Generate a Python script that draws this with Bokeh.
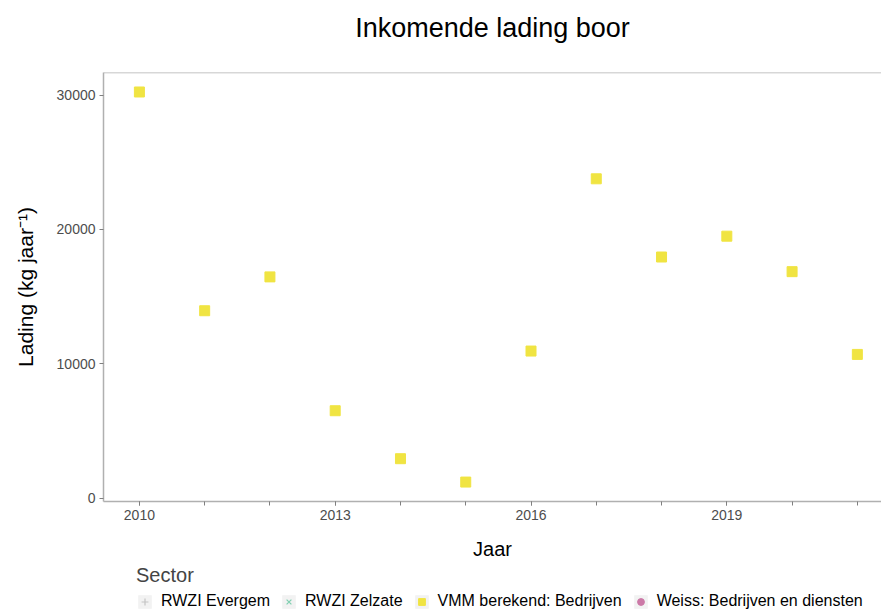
from bokeh.plotting import figure
from bokeh.layouts import column
from bokeh.models import FixedTicker, Range1d, Legend, LegendItem, Span
from bokeh.embed import file_html
from bokeh.resources import INLINE

# ---- data ----
years = [2010, 2011, 2012, 2013, 2014, 2015, 2016, 2017, 2018, 2019, 2020, 2021]
lading_vmm = [30230, 13950, 16470, 6510, 2940, 1200, 10950, 23770, 17950, 19500, 16860, 10700]
sectors = ["RWZI Evergem", "RWZI Zelzate", "VMM berekend: Bedrijven", "Weiss: Bedrijven en diensten"]
sector_markers = ["cross", "x", "square", "circle"]
sector_colors = ["#c4c4c4", "#7fcfb0", "#F0E442", "#cc79a7"]
x_major_ticks = [2010, 2013, 2016, 2019]
y_ticks = [0, 10000, 20000, 30000]
nan = float("nan")

FONT = "Liberation Sans"
AX_COL = "#b0b0b0"
TICK_LBL = "#4d4d4d"

# ---- title strip ----
tf = figure(width=881, height=56, output_backend="svg", toolbar_location=None,
            x_range=Range1d(0, 1), y_range=Range1d(0, 1),
            min_border_left=103, min_border_right=0, min_border_top=0, min_border_bottom=0,
            background_fill_color="white", border_fill_color="white")
tf.axis.visible = False
tf.xgrid.visible = False
tf.ygrid.visible = False
tf.outline_line_color = None
tf.title.text = "Inkomende lading boor"
tf.title.align = "center"
tf.title.text_font = FONT
tf.title.text_font_size = "27px"
tf.title.text_font_style = "normal"
tf.title.text_color = "black"
tf.title.standoff = 21

# ---- main plot ----
p = figure(width=881, height=506, output_backend="svg", toolbar_location=None,
           x_range=Range1d(2009.45, 2021.37), y_range=Range1d(-246, 31681),
           min_border_left=103, min_border_right=0, min_border_top=16, min_border_bottom=59,
           background_fill_color="white", border_fill_color="white")

p.outline_line_color = None
p.xgrid.visible = False
p.ygrid.visible = False

top_line = Span(location=31681, dimension="width", line_color=AX_COL, line_width=1.5)
p.add_layout(top_line)

p.xaxis.ticker = FixedTicker(ticks=x_major_ticks, minor_ticks=years)
p.yaxis.ticker = FixedTicker(ticks=y_ticks, minor_ticks=[])
for ax in (p.xaxis[0], p.yaxis[0]):
    ax.axis_line_color = AX_COL
    ax.axis_line_width = 1.5
    ax.major_tick_line_color = "#7f7f7f"
    ax.minor_tick_line_color = "#7f7f7f"
    ax.major_tick_in = 0
    ax.major_tick_out = 4
    ax.minor_tick_in = 0
    ax.minor_tick_out = 4
    ax.major_label_text_font = FONT
    ax.major_label_text_font_size = "14px"
    ax.major_label_text_color = TICK_LBL
    ax.axis_label_text_font = FONT
    ax.axis_label_text_font_size = "20px"
    ax.axis_label_text_font_style = "normal"
    ax.axis_label_text_color = "black"
    ax.major_label_standoff = 4

p.xaxis.axis_label = "Jaar"
p.xaxis.axis_label_standoff = 15
p.yaxis.axis_label = "Lading (kg jaar⁻¹)"
p.yaxis.axis_label_text_font_size = "21px"
p.yaxis.axis_label_standoff = 17
p.yaxis.major_label_orientation = "horizontal"

p.scatter(x=years, y=lading_vmm, marker="square", size=10,
          fill_color=sector_colors[2], line_color=sector_colors[2])

# ---- legend strip (separate figure below the plot) ----
lg = figure(width=881, height=48, output_backend="svg", toolbar_location=None,
            x_range=Range1d(0, 1), y_range=Range1d(0, 1),
            min_border_left=0, min_border_right=0, min_border_top=0, min_border_bottom=0,
            background_fill_color="white", border_fill_color="white")
lg.axis.visible = False
lg.xgrid.visible = False
lg.ygrid.visible = False
lg.outline_line_color = None

items = []
for s, m, c in zip(sectors, sector_markers, sector_colors):
    bg = lg.rect(x=[nan], y=[nan], width=1, height=1, fill_color="#f2f2f2", line_color=None)
    if m in ("cross", "x"):
        mk = lg.scatter(x=[nan], y=[nan], marker=m, size=10, line_color=c, line_width=1.2)
    else:
        mk = lg.scatter(x=[nan], y=[nan], marker=m, size=10, fill_color=c, line_color=c)
    items.append(LegendItem(label=s, renderers=[bg, mk]))

legend = Legend(
    items=items, orientation="horizontal", title="Sector", location=(33, 0),
    title_text_font=FONT, title_text_font_size="20px", title_text_font_style="normal",
    title_standoff=5,
    label_text_font=FONT, label_text_font_size="16px", label_text_color="black",
    glyph_width=17, glyph_height=17, label_standoff=8, spacing=10,
    padding=1, margin=0, border_line_color=None, background_fill_alpha=0,
)
lg.add_layout(legend, "center")

layout = column(tf, p, lg, spacing=0)
open("out.html", "w").write(file_html(layout, INLINE))
